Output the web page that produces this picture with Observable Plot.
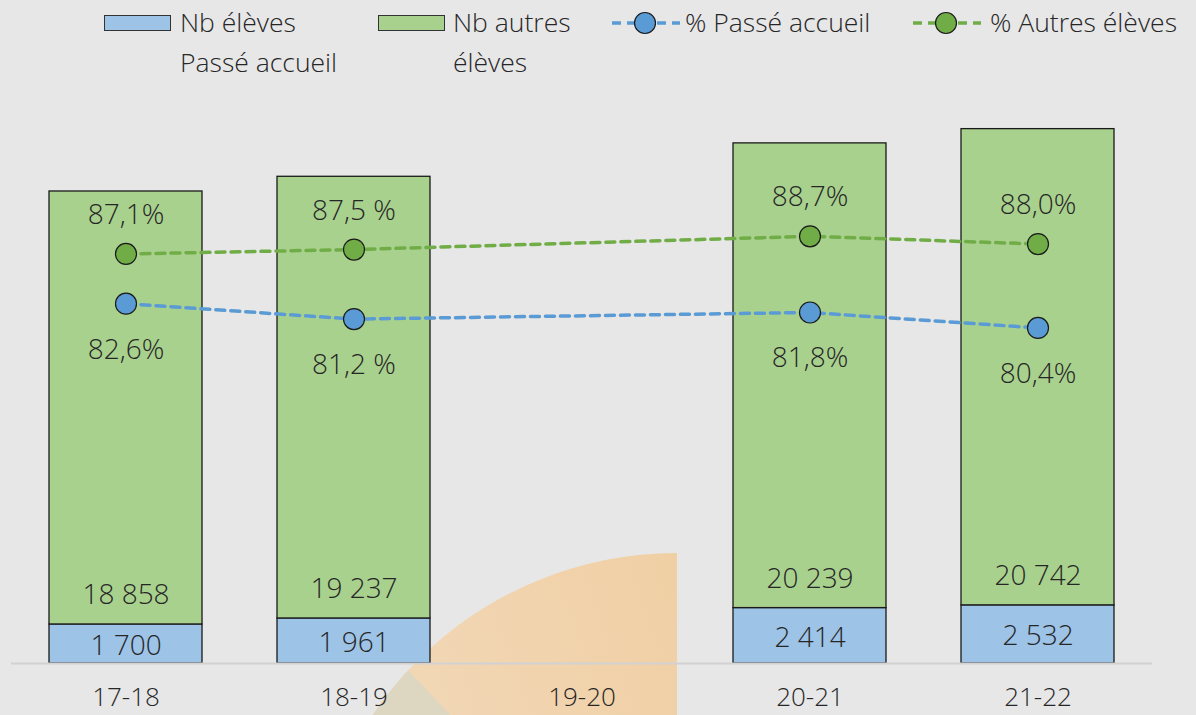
<!DOCTYPE html>
<html>
<head>
<meta charset="utf-8">
<script src="https://cdn.jsdelivr.net/npm/d3@7"></script>
<script src="https://cdn.jsdelivr.net/npm/@observablehq/plot@0.6"></script>
<style>
  html, body { margin: 0; padding: 0; background: #e7e7e7; overflow: hidden; }
  body { width: 1196px; height: 715px; position: relative; font-family: "Open Sans", sans-serif; font-weight: 300; color: #262626; }
  #deco { position: absolute; left: 310px; top: 553px; width: 367px; height: 367px; border-top-left-radius: 367px;
          overflow: hidden; background: linear-gradient(250deg, #f0cfa4 0%, #f3dcc0 100%); z-index: 0; }
  #deco .tri { position: absolute; left: 0; top: 0; width: 367px; height: 367px; background: #ddd6c1;
          clip-path: polygon(93px 112px, 145px 167px, 0px 167px, 0px 112px); }
  #legend { position: relative; height: 88px; z-index: 1; font-size: 26.5px; }
  .li { position: absolute; top: 0; }
  .lt { position: absolute; line-height: 40px; white-space: nowrap; top: 2px; }
  #chart { position: relative; z-index: 1; }
</style>
</head>
<body>
<div id="deco"><div class="tri"></div></div>
<div id="legend"></div>
<div id="chart"></div>
<script>
// ---- data ----
const categories = ["17-18", "18-19", "19-20", "20-21", "21-22"];
const years = ["17-18", "18-19", "20-21", "21-22"];
const nbAccueil = [1700, 1961, 2414, 2532];
const nbAutres = [18858, 19237, 20239, 20742];
const pctAccueil = [82.6, 81.2, 81.8, 80.4];
const pctAutres = [87.1, 87.5, 88.7, 88.0];
const pctAccueilLabels = ["82,6%", "81,2 %", "81,8%", "80,4%"];
const pctAutresLabels = ["87,1%", "87,5 %", "88,7%", "88,0%"];
const seriesNames = ["Nb élèves Passé accueil", "Nb autres élèves", "% Passé accueil", "% Autres élèves"];

const blueFill = "#9dc3e6", greenFill = "#a9d18e";
const blueLine = "#5b9bd5", greenLine = "#70ad47";
const fmt = v => d3.format(",")(v).replace(/,/g, " ");

// secondary axis (percent) mapped into primary units
const pct = d3.scaleLinear().domain([50, 102]).range([0, 25000]);

const bars = [];
years.forEach((yr, i) => {
  bars.push({x: yr, s: seriesNames[0], v: nbAccueil[i]});
  bars.push({x: yr, s: seriesNames[1], v: nbAutres[i]});
});
const rows = years.map((yr, i) => ({x: yr, a: nbAccueil[i], b: nbAutres[i],
  pa: pctAccueil[i], pb: pctAutres[i], la: pctAccueilLabels[i], lb: pctAutresLabels[i]}));

const FS = 28;
const chart = Plot.plot({
  width: 1196,
  height: 627,
  marginLeft: 11,
  marginRight: 44,
  marginTop: 1,
  marginBottom: 52,
  style: {background: "transparent", fontFamily: "'Open Sans', sans-serif", fontWeight: 300, color: "#262626", overflow: "visible"},
  x: {domain: categories, paddingInner: 0.33, paddingOuter: 0.165, axis: null},
  y: {domain: [0, 25000], axis: null},
  color: {domain: [seriesNames[0], seriesNames[1]], range: [blueFill, greenFill]},
  marks: [
    Plot.barY(bars, {x: "x", y: "v", fill: "s", stroke: "#1a1a1a", strokeWidth: 1.3}),
    Plot.ruleY([0], {stroke: "#d2d2d2", strokeWidth: 2}),
    Plot.axisX({label: null, tickSize: 0, tickPadding: 24, fontSize: 26, fill: "#262626", fontWeight: 300}),
    Plot.text(rows, {x: "x", y: d => d.a / 2, dy: 2, text: d => fmt(d.a), fontSize: FS, fill: "#262626", fontWeight: 300}),
    Plot.text(rows, {x: "x", y: "a", dy: -29, text: d => fmt(d.b), fontSize: FS, fill: "#262626", fontWeight: 300}),
    Plot.line(rows, {x: "x", y: d => pct(d.pb), stroke: greenLine, strokeWidth: 3.5, strokeDasharray: "9,6"}),
    Plot.line(rows, {x: "x", y: d => pct(d.pa), stroke: blueLine, strokeWidth: 3.5, strokeDasharray: "9,6"}),
    Plot.dot(rows, {x: "x", y: d => pct(d.pb), r: 10.5, fill: greenLine, stroke: "#1a1a1a", strokeWidth: 1.2}),
    Plot.dot(rows, {x: "x", y: d => pct(d.pa), r: 10.5, fill: blueLine, stroke: "#1a1a1a", strokeWidth: 1.2}),
    Plot.text(rows, {x: "x", y: d => pct(d.pb), dy: -39, text: "lb", fontSize: FS, fill: "#262626", fontWeight: 300}),
    Plot.text(rows, {x: "x", y: d => pct(d.pa), dy: 46, text: "la", fontSize: FS, fill: "#262626", fontWeight: 300})
  ]
});
document.getElementById("chart").appendChild(chart);

// ---- legend ----
const legend = d3.select("#legend");
const items = [
  {kind: "rect", fill: blueFill, sx: 104, tx: 180, lines: ["Nb élèves", "Passé accueil"]},
  {kind: "rect", fill: greenFill, sx: 378, tx: 453, lines: ["Nb autres", "élèves"]},
  {kind: "line", fill: blueLine, sx: 612, tx: 685, lines: ["% Passé accueil"]},
  {kind: "line", fill: greenLine, sx: 913, tx: 990, lines: ["% Autres élèves"]}
];
items.forEach(it => {
  const s = legend.append("svg").attr("class", "li")
    .style("left", it.sx + "px").attr("width", 70).attr("height", 46);
  if (it.kind === "rect") {
    s.append("rect").attr("x", 0.5).attr("y", 15.5).attr("width", 66).attr("height", 15)
      .attr("fill", it.fill).attr("stroke", "#333").attr("stroke-width", 1);
  } else {
    s.append("line").attr("x1", 0).attr("x2", 68).attr("y1", 23).attr("y2", 23)
      .attr("stroke", it.fill).attr("stroke-width", 3.5).attr("stroke-dasharray", "9,6");
    s.append("circle").attr("cx", 33).attr("cy", 23).attr("r", 10.5)
      .attr("fill", it.fill).attr("stroke", "#1a1a1a").attr("stroke-width", 1.2);
  }
  legend.append("div").attr("class", "lt").style("left", it.tx + "px")
    .html(it.lines.join("<br>"));
});
</script>
</body>
</html>
